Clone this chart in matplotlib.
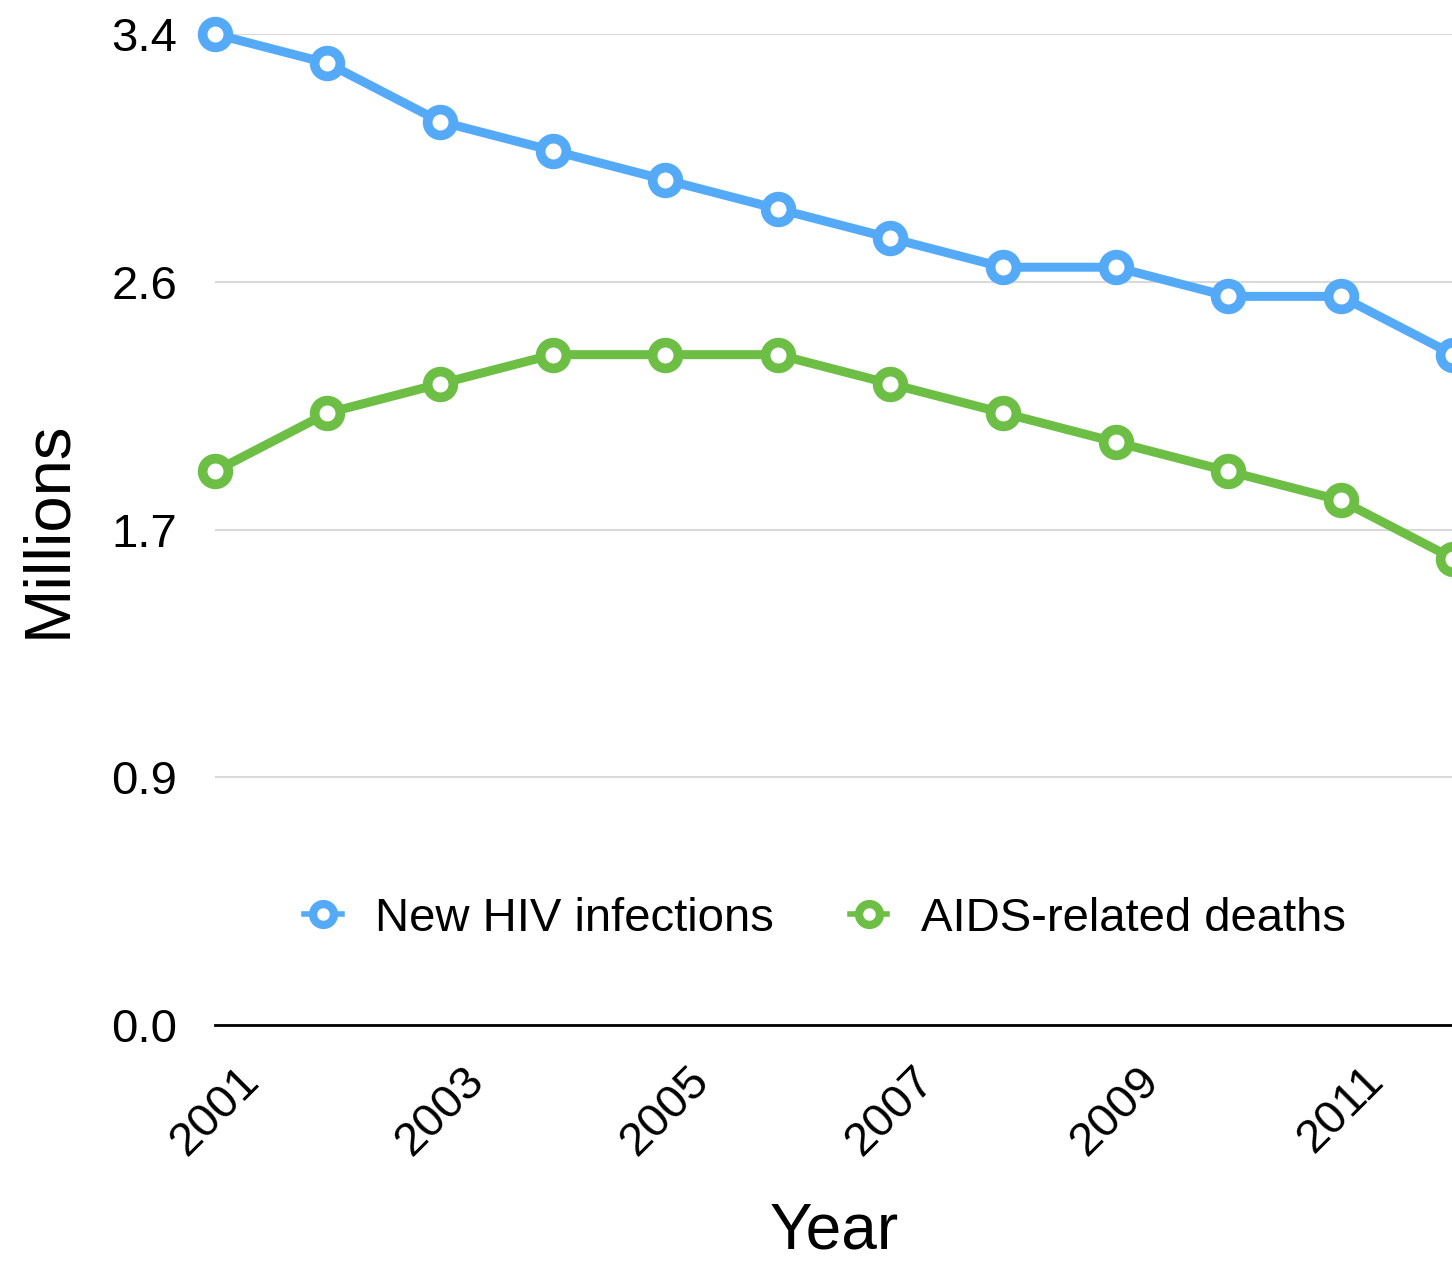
import numpy as np
import matplotlib
matplotlib.use("Agg")
import matplotlib.pyplot as plt

# 数据
years = [2001, 2002, 2003, 2004, 2005, 2006, 2007, 2008, 2009, 2010, 2011, 2012]
new_infections = [3.4, 3.3, 3.1, 3.0, 2.9, 2.8, 2.7, 2.6, 2.6, 2.5, 2.5, 2.3]
aids_deaths = [1.9, 2.1, 2.2, 2.3, 2.3, 2.3, 2.2, 2.1, 2.0, 1.9, 1.8, 1.6]
y_ticks = [0.0, 0.85, 1.7, 2.55, 3.4]
y_tick_labels = ['0.0', '0.9', '1.7', '2.6', '3.4']
x_ticks = [2001, 2003, 2005, 2007, 2009, 2011]

blue = '#55AAF8'
green = '#6CBE45'

plt.rcParams['font.family'] = ['Liberation Sans', 'DejaVu Sans']

fig = plt.figure(figsize=(14.52, 12.62), dpi=100)
ax = fig.add_axes([0.148, 0.1878, 0.853, 0.7852])

style = dict(linewidth=6.5, marker='o', markersize=18.5, markeredgewidth=7,
             markerfacecolor='white', clip_on=False, zorder=3)
ax.plot(years, new_infections, color=blue, label='New HIV infections', **style)
ax.plot(years, aids_deaths, color=green, label='AIDS-related deaths', **style)

ax.set_xlim(2001, 2012)
ax.set_ylim(0, 3.4)
ax.set_yticks(y_ticks)
ax.set_yticklabels(y_tick_labels)
ax.set_xticks(x_ticks)
ax.set_xticklabels([str(x) for x in x_ticks], rotation=45, ha='center')
ax.tick_params(axis='both', length=0, labelsize=34)
ax.tick_params(axis='y', pad=27)
ax.tick_params(axis='x', pad=24)

ax.grid(axis='y', color='#D9D9D9', linewidth=1.5)
ax.set_axisbelow(True)
for s in ['top', 'right', 'left']:
    ax.spines[s].set_visible(False)
ax.spines['bottom'].set_linewidth(2)
ax.spines['bottom'].set_color('black')

ax.set_ylabel('Millions', fontsize=47, labelpad=24)
ax.set_xlabel('Year', fontsize=46, labelpad=27)

leg = ax.legend(loc='center', bbox_to_anchor=(825 / 1452, 1 - 919 / 1262),
                bbox_transform=fig.transFigure, ncol=2, frameon=False,
                fontsize=34, handlelength=0.8, handletextpad=0.7,
                columnspacing=1.6)
for h in leg.get_lines():
    h.set_linewidth(4)
    h.set_markersize(15)
    h.set_markeredgewidth(6)

fig.savefig('out.png', dpi=100)
